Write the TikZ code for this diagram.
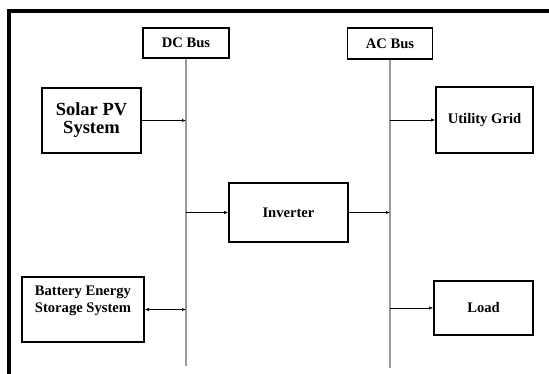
\documentclass[tikz,border=0pt]{standalone}
\usepackage{fontspec}
\setmainfont{Liberation Serif}
\usetikzlibrary{arrows.meta,positioning,calc}

\begin{document}
\begin{tikzpicture}[x=1pt,y=-1pt,>={Latex[length=4pt,width=3.2pt]},
    blk/.style={draw,line width=1.6pt,inner sep=0pt,align=center,
      font=\fontsize{14.6}{17}\selectfont\bfseries},
    bus/.style={draw=black!40,line width=1.2pt},
    flow/.style={->,line width=0.6pt}]
  \useasboundingbox (0,0) rectangle (549,374);
  % frame
  \draw[line width=3.5pt] (9,374) -- (9,11) -- (549,11);
  % buses
  \node[blk,minimum width=86pt,minimum height=30pt] (dcbus) at (186,43) {DC Bus};
  \node[blk,minimum width=85pt,minimum height=31pt] (acbus) at (390,43.5) {AC Bus};
  \coordinate (dcend) at (186,366);
  \coordinate (acend) at (390,368);
  \draw[bus] (dcbus.south) -- (dcend);
  \draw[bus] (acbus.south) -- (acend);
  % blocks
  \node[blk,minimum width=99pt,minimum height=65pt,
    font=\fontsize{18.5}{18}\selectfont\bfseries] (solar) at (91.5,120.5) {Solar PV\\System};
  \node[blk,minimum width=122pt,minimum height=65pt] (bess) at (83,309.5)
    {Battery Energy\\Storage System\\[3pt]};
  \node[blk,minimum width=119pt,minimum height=59pt] (inv) at (288.5,212.5) {Inverter};
  \node[blk,minimum width=97pt,minimum height=66pt] (grid) at (484.5,120) {Utility Grid};
  \node[blk,minimum width=99pt,minimum height=54pt] (load) at (483.5,308) {Load};
  % flows
  \draw[flow] (solar.east) -- (solar.east -| dcend);
  \draw[flow,<->] (bess.east) -- (bess.east -| dcend);
  \draw[flow] (inv.west -| dcend) -- (inv.west);
  \draw[flow] (inv.east) -- (inv.east -| acend);
  \draw[flow] (grid.west -| acend) -- (grid.west);
  \draw[flow] (load.west -| acend) -- (load.west);
\end{tikzpicture}
\end{document}
